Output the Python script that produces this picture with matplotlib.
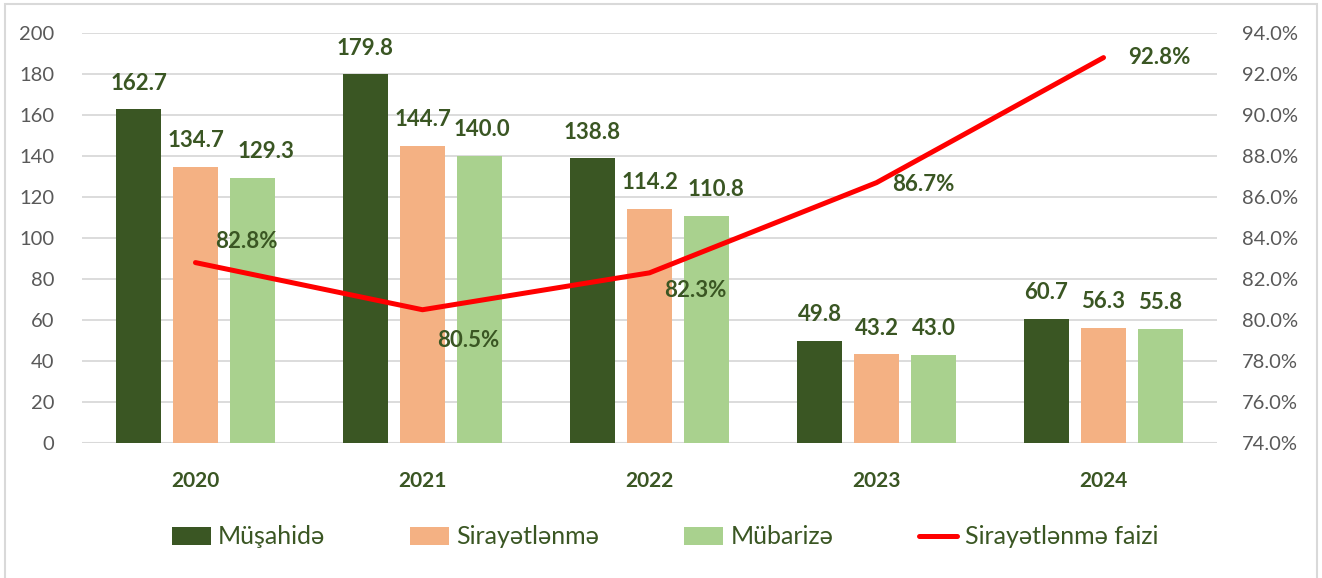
import numpy as np
import matplotlib
matplotlib.use("Agg")
import matplotlib.pyplot as plt
from matplotlib.patches import Rectangle
from matplotlib.ticker import FuncFormatter

plt.rcParams['font.family'] = ['Lato', 'DejaVu Sans']

years = ['2020', '2021', '2022', '2023', '2024']
musahide = [162.7, 179.8, 138.8, 49.8, 60.7]
sirayetlenme = [134.7, 144.7, 114.2, 43.2, 56.3]
mubarize = [129.3, 140.0, 110.8, 43.0, 55.8]
faiz = [82.8, 80.5, 82.3, 86.7, 92.8]

DARK = '#3A5623'
ORANGE = '#F4B183'
LIGHT = '#A9D18E'
RED = '#FF0000'
GRID = '#D9D9D9'
TICK = '#595959'

# label offsets (points)
pct_offsets = [(37, 15), (33, -22), (33, -13), (34, -1), (40, 0)]
# Excel nudged some of the third-series labels to the right
bar_label_dx = [[0] * 5, [0] * 5, [10, 2, 7, 0, 0]]

fig = plt.figure(figsize=(13.22, 5.78), dpi=100)
ax = fig.add_axes([0.062, 0.2336, 0.8586, 0.7093])
ax2 = ax.twinx()

x = np.arange(len(years))
w = 0.198
step = 0.251
series = [(musahide, DARK, 'Müşahidə'), (sirayetlenme, ORANGE, 'Sirayətlənmə'),
          (mubarize, LIGHT, 'Mübarizə')]
handles = []
for i, (vals, col, name) in enumerate(series):
    b = ax.bar(x + (i - 1) * step, vals, width=w, color=col, label=name, zorder=2)
    handles.append(b)
    for xi, v, dx in zip(x + (i - 1) * step, vals, bar_label_dx[i]):
        ax.annotate(f"{v:.1f}", (xi, v), xytext=(dx, 19), textcoords='offset points',
                    ha='center', va='center', fontsize=16, fontweight='bold', color=DARK)

ln, = ax2.plot(x, faiz, color=RED, lw=3.6, solid_capstyle='round', zorder=3,
               label='Sirayətlənmə faizi')
handles.append(ln)
for xi, v, off in zip(x, faiz, pct_offsets):
    ax2.annotate(f"{v:.1f}%", (xi, v), xytext=off, textcoords='offset points',
                 ha='center', va='center', fontsize=16, fontweight='bold', color=DARK)

ax.set_ylim(0, 200)
ax.set_yticks(range(0, 201, 20))
ax2.set_ylim(74, 94)
ax2.set_yticks(range(74, 95, 2))
ax2.yaxis.set_major_formatter(FuncFormatter(lambda v, p: f"{v:.1f}%"))
ax.set_xlim(-0.5, 4.5)
ax.set_xticks(x)
ax.set_xticklabels(years, fontsize=15, fontweight='bold', color=DARK)

ax.grid(axis='y', color=GRID, lw=1.3, zorder=0)
ax.set_axisbelow(True)
for a in (ax, ax2):
    for s in a.spines.values():
        s.set_visible(False)
    a.tick_params(length=0)
ax.tick_params(axis='y', labelsize=14.5, labelcolor=TICK, pad=20)
ax.tick_params(axis='x', pad=20)
ax2.tick_params(axis='y', labelsize=14.5, labelcolor=TICK, pad=18)
ax.axhline(0, color=GRID, lw=1.5, zorder=1)

fig.legend(handles=handles, labels=[h.get_label() for h in handles], loc='center',
           bbox_to_anchor=(0.503, 0.071), ncol=4, frameon=False, fontsize=18,
           handlelength=1.55, handleheight=0.75, handletextpad=0.3, columnspacing=3.4,
           labelcolor=DARK)

fig.patches.append(Rectangle((5 / 1322, -0.01), 1312 / 1322, 1.01 - 4 / 578,
                             transform=fig.transFigure, fill=False,
                             edgecolor='#D9D9D9', lw=1.5))

fig.savefig('out.png', dpi=100)
